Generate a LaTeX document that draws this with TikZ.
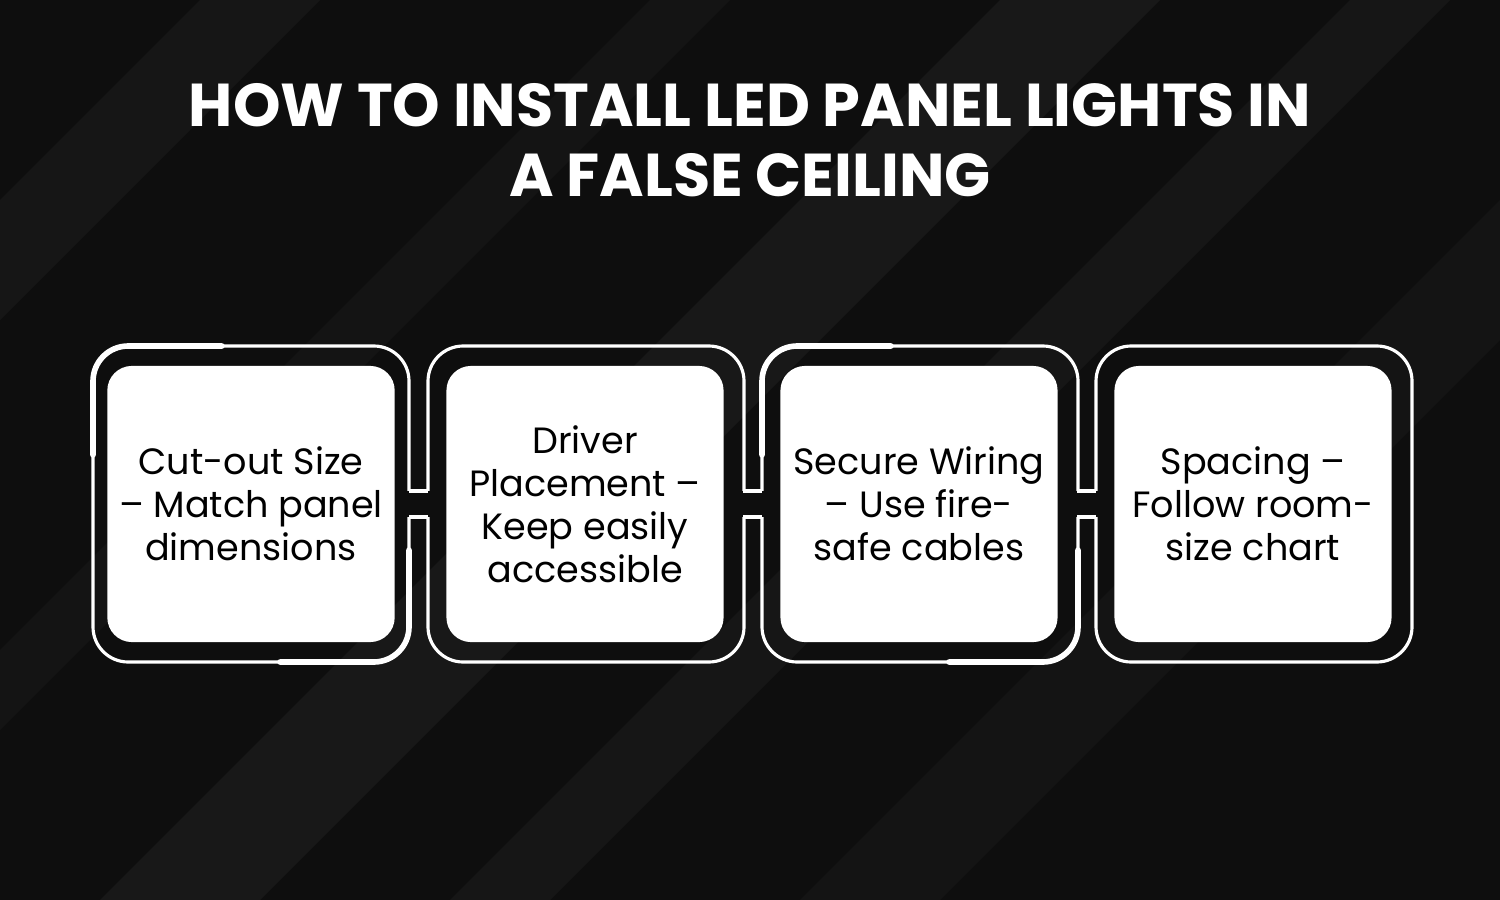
\documentclass[tikz,border=0pt]{standalone}
\usepackage{fontspec}
\setmainfont{Poppins}
\usetikzlibrary{positioning, calc}
\definecolor{bgdark}{RGB}{14,14,14}
\definecolor{bgband}{RGB}{60,60,60}

\begin{document}
\begin{tikzpicture}[x=0.01cm, y=-0.01cm,
    outerframe/.style={draw=white, line width=0.9pt, rounded corners=10pt},
    accent/.style={draw=white, line width=1.6pt, rounded corners=10pt, line cap=round},
    stepcard/.style={fill=white, rounded corners=7pt, minimum width=2.77cm, minimum height=2.76cm, align=center, font=\fontsize{10.4}{12.2}\selectfont\mdseries, text=black},
    titletext/.style={text=white, align=center, font=\fontsize{17.2}{19.8}\selectfont\bfseries}
]
% background
\useasboundingbox (0,0) rectangle (1500,900);
\fill[bgdark] (0,0) rectangle (1500,900);
\foreach \s/\w/\o in {200/120/0.18, 650/80/0.14, 1000/160/0.22, 1350/100/0.18, 1700/140/0.14}
    \fill[bgband, opacity=\o] (\s,0) -- (\s+\w,0) -- (\s+\w-900,900) -- (\s-900,900) -- cycle;

\node[titletext] (title) at (750,140) {HOW TO INSTALL LED PANEL LIGHTS IN\\A FALSE CEILING};

% frames
\foreach \x [count=\i] in {93,428,762,1096}
    \draw[outerframe] (\x,346) rectangle ++(316,316);
% necks
\foreach \x in {409,743,1077}{
    \fill[bgdark] (\x-3,491) rectangle (\x+22,517);
    \draw[white, line width=0.9pt] (\x,491) -- (\x+19,491);
    \draw[white, line width=0.9pt] (\x,517) -- (\x+19,517);
}
% accents on first and third frame
\foreach \x in {93,762}{
    \draw[accent] (\x,455) -- (\x,346) -- (\x+129,346);
    \draw[accent] (\x+187,662) -- (\x+316,662) -- (\x+316,550);
}

\node[stepcard] (cutout) at (251,504) {Cut-out Size\\– Match panel\\dimensions};
\node[stepcard] (driver) at (585,504) {Driver\\Placement –\\Keep easily\\accessible};
\node[stepcard] (wiring) at (919,504) {Secure Wiring\\– Use fire-\\safe cables};
\node[stepcard] (spacing) at (1253,504) {Spacing –\\Follow room-\\size chart};
\end{tikzpicture}
\end{document}
